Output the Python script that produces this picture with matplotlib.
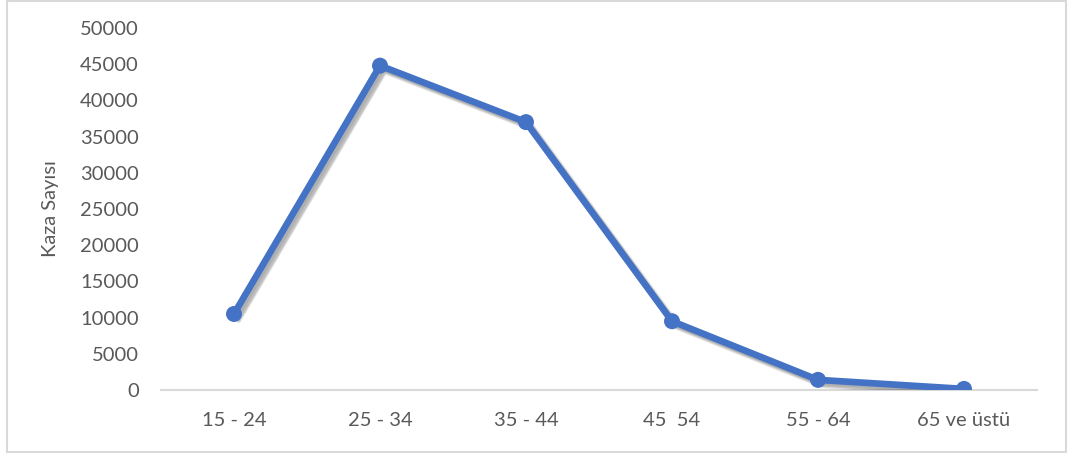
import matplotlib
matplotlib.use("Agg")
import matplotlib.pyplot as plt
import matplotlib.patheffects as pe
from matplotlib.patches import Rectangle

# Accident counts by driver age group
age_groups = ["15 - 24", "25 - 34", "35 - 44", "45  54", "55 - 64", "65 ve üstü"]
accidents = [10500, 44800, 37000, 9500, 1400, 150]
y_ticks = [0, 5000, 10000, 15000, 20000, 25000, 30000, 35000, 40000, 45000, 50000]

plt.rcParams["font.family"] = ["Lato", "DejaVu Sans"]

W, H = 1069, 457
fig = plt.figure(figsize=(W / 100, H / 100), dpi=100)
fig.patch.set_facecolor("white")

# Outer chart frame
fig.patches.append(Rectangle((7 / W, 1 - 452 / H), (1066 - 7) / W, (452 - 1) / H,
                             transform=fig.transFigure, fill=False,
                             edgecolor="#D9D9D9", linewidth=1.5))

left, right, top, bottom = 161, 1037, 28, 390
ax = fig.add_axes([left / W, 1 - bottom / H, (right - left) / W, (bottom - top) / H])

# Soft drop shadow built from a few faint, slightly offset copies
shadow = [pe.SimpleLineShadow(offset=(dx, -dy), shadow_color="black", alpha=0.07, rho=1.0)
          for dx, dy in [(1.5, 1.5), (2.5, 2.5), (3.5, 3.5), (2.5, 3.5), (3.5, 2.5)]]

x = list(range(len(age_groups)))
ax.plot(x, accidents, color="#4472C4", linewidth=4.8, marker="o", markersize=11.5,
        markeredgewidth=0, solid_joinstyle="round",
        path_effects=shadow + [pe.Normal()],
        zorder=3)

ax.set_xlim(-0.5, len(age_groups) - 0.5)
ax.set_ylim(0, 50000)
ax.set_xticks(x)
ax.set_xticklabels(age_groups)
ax.set_yticks(y_ticks)
ax.set_yticklabels([str(v) for v in y_ticks])

for s in ["top", "right", "left"]:
    ax.spines[s].set_visible(False)
ax.spines["bottom"].set_color("#D9D9D9")
ax.spines["bottom"].set_linewidth(1.5)

ax.tick_params(axis="both", length=0, labelsize=14.5, colors="#595959")
ax.tick_params(axis="x", pad=16)
ax.tick_params(axis="y", pad=16)

ax.set_ylabel("Kaza Sayısı", fontsize=14.5, color="#595959", labelpad=15)

fig.savefig("out.png", dpi=100, facecolor="white")
